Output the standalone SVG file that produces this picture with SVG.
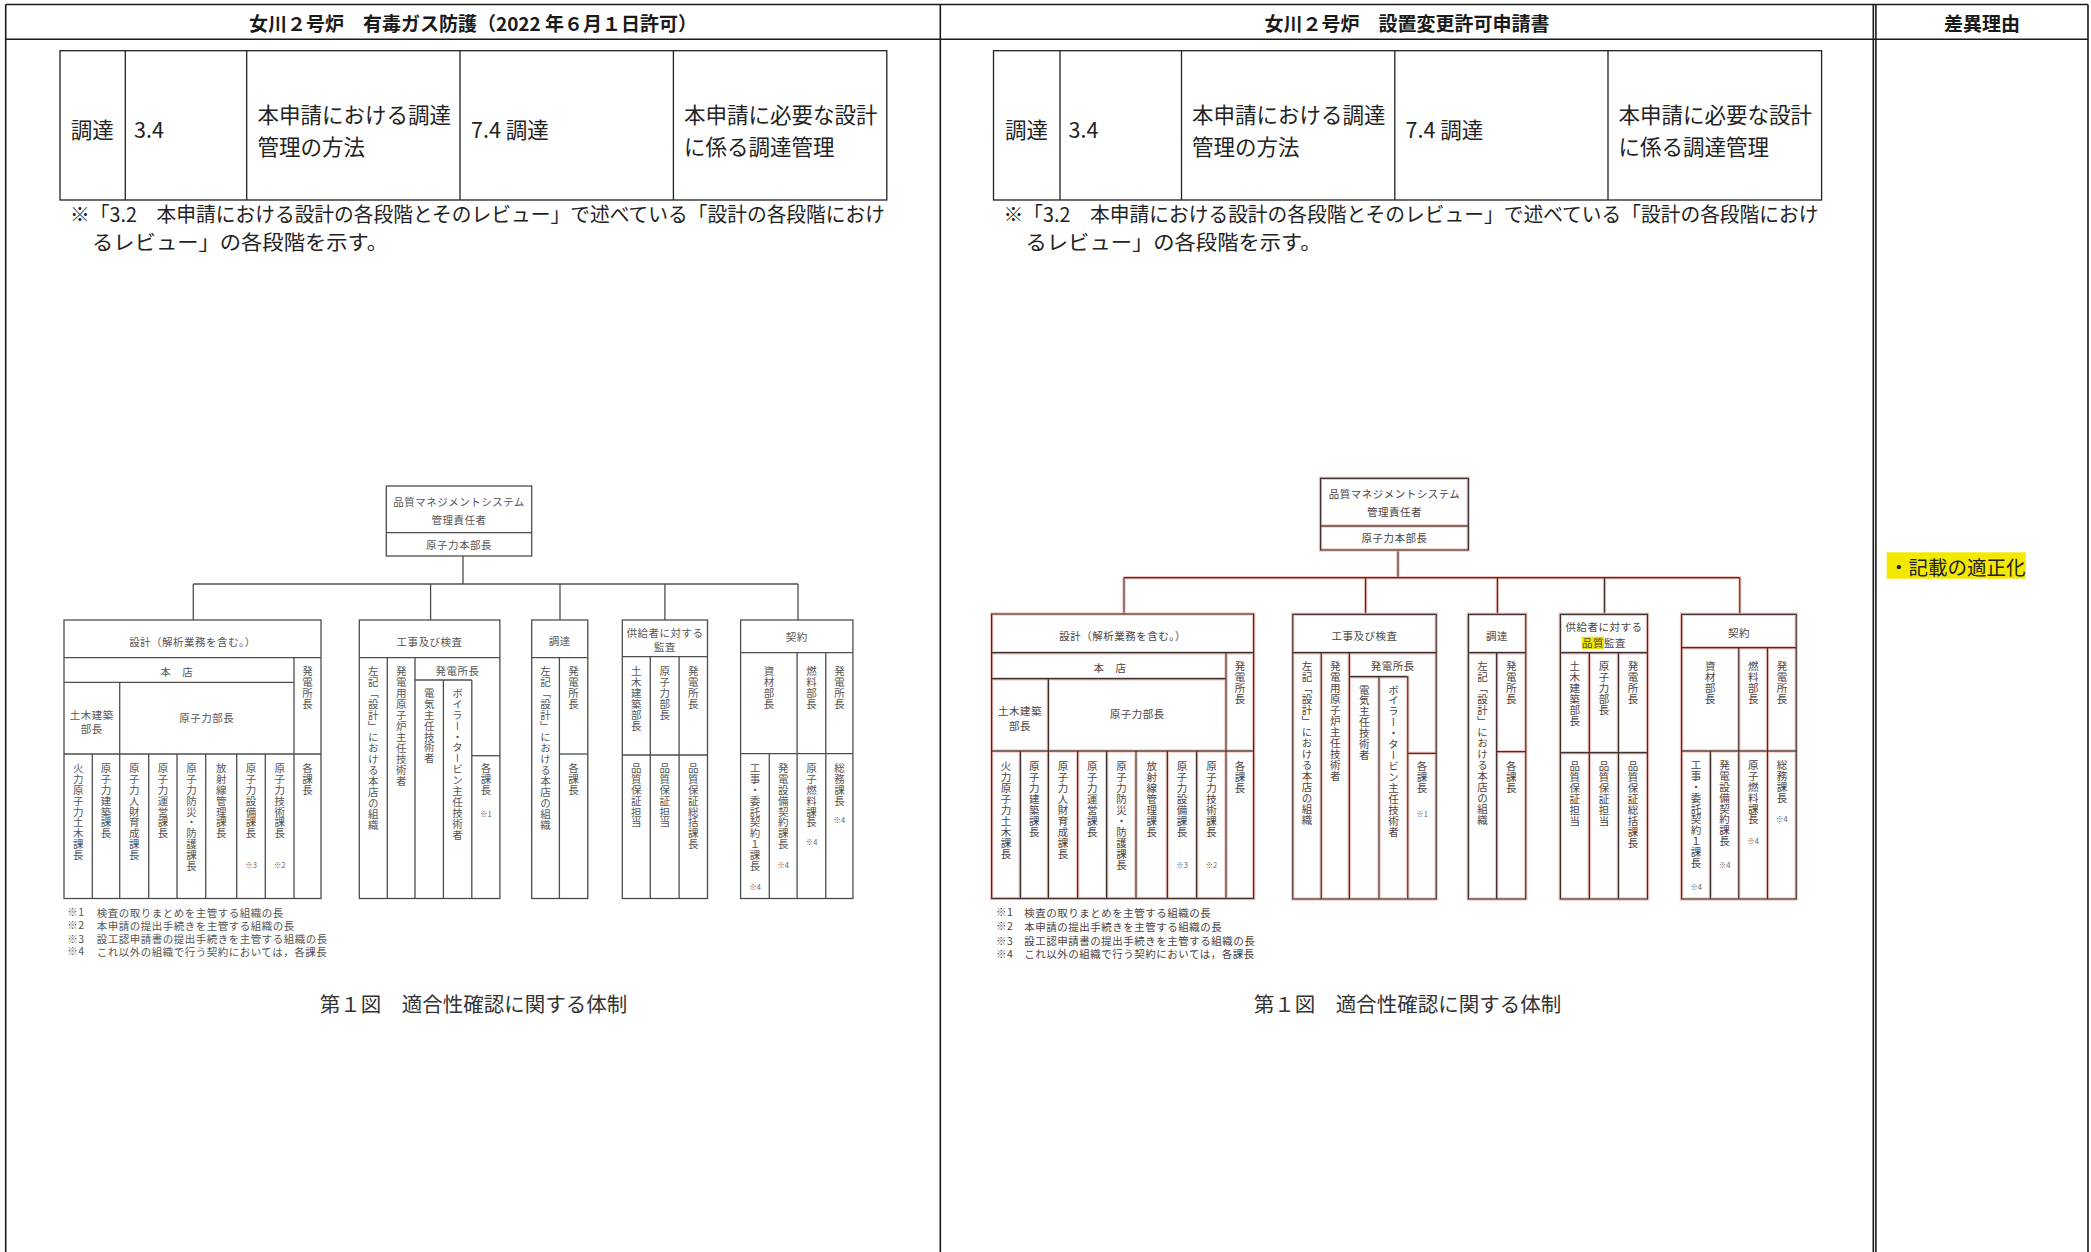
<svg xmlns="http://www.w3.org/2000/svg" width="2091" height="1252" viewBox="0 0 2091 1252">
<style>
.frame{stroke:#1a1a1a;stroke-width:1.6;fill:none}
.hdr{font-family:"Noto Sans CJK JP",sans-serif;font-size:19px;font-weight:700;fill:#1a1a1a;text-anchor:middle;dominant-baseline:central}
.tb{font-family:"Noto Sans CJK JP",sans-serif;font-size:21.5px;fill:#222;dominant-baseline:central}
.nt{font-family:"Noto Sans CJK JP",sans-serif;font-size:20px;fill:#222;dominant-baseline:central}
.tl{stroke:#222;stroke-width:1.3;fill:none}
.L{stroke:#4d4d4d;stroke-width:1.3;fill:none}
.R{stroke:#3b3131;stroke-width:1.4;fill:none}
.t{font-family:"Noto Sans CJK JP",sans-serif;font-size:10.5px;letter-spacing:0.5px;fill:#555;text-anchor:middle;dominant-baseline:central}
.v{font-family:"Noto Sans CJK JP",sans-serif;font-size:10.5px;letter-spacing:0.45px;font-kerning:none;fill:#555;writing-mode:vertical-rl}
.s{font-family:"Noto Sans CJK JP",sans-serif;font-size:7.5px;fill:#666;text-anchor:middle;dominant-baseline:central}
.fn{font-family:"Noto Sans CJK JP",sans-serif;font-size:10.5px;letter-spacing:0.5px;fill:#555;dominant-baseline:central}
.rt .t,.rt .v,.rt .fn{fill:#4c4242}
.cap{font-family:"Noto Sans CJK JP",sans-serif;font-size:20.5px;fill:#333;text-anchor:middle;dominant-baseline:central}
</style>
<defs>
<filter id="fringe" x="-5%" y="-5%" width="110%" height="110%">
<feMorphology in="SourceAlpha" operator="dilate" radius="1.1" result="d"/>
<feFlood flood-color="#f0b4aa" flood-opacity="0.75"/>
<feComposite in2="d" operator="in" result="halo"/>
<feMerge><feMergeNode in="halo"/><feMergeNode in="SourceGraphic"/></feMerge>
</filter>
</defs>
<rect width="2091" height="1252" fill="#fff"/>

<g id="frame" class="frame">
<line x1="5.7" y1="4.5" x2="2088" y2="4.5"/>
<line x1="5.7" y1="39.3" x2="2088" y2="39.3"/>
<line x1="5.7" y1="4.5" x2="5.7" y2="1252"/>
<line x1="940.3" y1="4.5" x2="940.3" y2="1252"/>
<line x1="1873.3" y1="4.5" x2="1873.3" y2="1252"/>
<line x1="1875.9" y1="4.5" x2="1875.9" y2="1252"/>
<line x1="2088" y1="4.5" x2="2088" y2="1252"/>
</g>
<g id="headers">
<text class="hdr" x="473" y="22.5">女川２号炉　有毒ガス防護（2022 年６月１日許可）</text>
<text class="hdr" x="1407" y="22.5">女川２号炉　設置変更許可申請書</text>
<text class="hdr" x="1982" y="22.5">差異理由</text>
</g>

<g id="table-left">
<rect class="tl" x="60" y="50.7" width="826.8" height="149.3"/>
<line class="tl" x1="125.3" y1="50.7" x2="125.3" y2="200"/>
<line class="tl" x1="246.7" y1="50.7" x2="246.7" y2="200"/>
<line class="tl" x1="460" y1="50.7" x2="460" y2="200"/>
<line class="tl" x1="673.4" y1="50.7" x2="673.4" y2="200"/>
<text class="tb" x="70.7" y="128">調達</text>
<text class="tb" x="134" y="128">3.4</text>
<text class="tb" x="257.4" y="113.3">本申請における調達</text>
<text class="tb" x="257.4" y="145.3">管理の方法</text>
<text class="tb" x="471" y="128">7.4 調達</text>
<text class="tb" x="684" y="113.3">本申請に必要な設計</text>
<text class="tb" x="684" y="145.3">に係る調達管理</text>
<text class="nt" x="70" y="213.4" textLength="815" lengthAdjust="spacingAndGlyphs">※「3.2　本申請における設計の各段階とそのレビュー」で述べている「設計の各段階におけ</text>
<text class="nt" x="92" y="241.4" textLength="296" lengthAdjust="spacingAndGlyphs">るレビュー」の各段階を示す。</text>
</g>
<g id="table-right">
<rect class="tl" x="993.5" y="50.7" width="828.1" height="149.3"/>
<line class="tl" x1="1060" y1="50.7" x2="1060" y2="200"/>
<line class="tl" x1="1181.5" y1="50.7" x2="1181.5" y2="200"/>
<line class="tl" x1="1394.8" y1="50.7" x2="1394.8" y2="200"/>
<line class="tl" x1="1608" y1="50.7" x2="1608" y2="200"/>
<text class="tb" x="1005" y="128">調達</text>
<text class="tb" x="1068.5" y="128">3.4</text>
<text class="tb" x="1192" y="113.3">本申請における調達</text>
<text class="tb" x="1192" y="145.3">管理の方法</text>
<text class="tb" x="1405.5" y="128">7.4 調達</text>
<text class="tb" x="1618.5" y="113.3">本申請に必要な設計</text>
<text class="tb" x="1618.5" y="145.3">に係る調達管理</text>
<text class="nt" x="1003.5" y="213.4" textLength="815" lengthAdjust="spacingAndGlyphs">※「3.2　本申請における設計の各段階とそのレビュー」で述べている「設計の各段階におけ</text>
<text class="nt" x="1025.5" y="241.4" textLength="296" lengthAdjust="spacingAndGlyphs">るレビュー」の各段階を示す。</text>
</g>

<!-- LEFT ORG CHART -->
<g id="connectors-left" class="L">
<line x1="463" y1="556" x2="463" y2="584"/>
<line x1="193.3" y1="584" x2="798" y2="584"/>
<line x1="193.3" y1="584" x2="193.3" y2="620"/>
<line x1="430.6" y1="584" x2="430.6" y2="620"/>
<line x1="560" y1="584" x2="560" y2="620"/>
<line x1="664.9" y1="584" x2="664.9" y2="620"/>
<line x1="798" y1="584" x2="798" y2="620"/>
</g>
<g id="L-top">
<rect class="L" x="386.3" y="486" width="145.4" height="70"/>
<line class="L" x1="386.3" y1="532.7" x2="531.7" y2="532.7"/>
<text class="t" x="459" y="501.7">品質マネジメントシステム</text>
<text class="t" x="459" y="519.3">管理責任者</text>
<text class="t" x="459" y="544">原子力本部長</text>
</g>
<g id="L-design">
<g class="L">
<rect x="64" y="620" width="257" height="278.5"/>
<line x1="64" y1="657.7" x2="321" y2="657.7"/>
<line x1="294" y1="657.7" x2="294" y2="898.5"/>
<line x1="64" y1="682.3" x2="294" y2="682.3"/>
<line x1="119.7" y1="682.3" x2="119.7" y2="898.5"/>
<line x1="64" y1="754" x2="321" y2="754"/>
<line x1="92.3" y1="754" x2="92.3" y2="898.5"/>
<line x1="148.7" y1="754" x2="148.7" y2="898.5"/>
<line x1="177" y1="754" x2="177" y2="898.5"/>
<line x1="205.7" y1="754" x2="205.7" y2="898.5"/>
<line x1="236.7" y1="754" x2="236.7" y2="898.5"/>
<line x1="265.3" y1="754" x2="265.3" y2="898.5"/>
</g>
<text class="t" x="192.5" y="641">設計（解析業務を含む。）</text>
<text class="t" x="176.7" y="671.7">本　店</text>
<text class="v" x="307.5" y="666">発電所長</text>
<text class="t" x="91.8" y="714.3">土木建築</text>
<text class="t" x="91.8" y="728.3">部長</text>
<text class="t" x="206.8" y="717">原子力部長</text>
<text class="v" x="78.2" y="762.5">火力原子力土木課長</text>
<text class="v" x="106" y="762.5">原子力建築課長</text>
<text class="v" x="134.2" y="762.5">原子力人財育成課長</text>
<text class="v" x="162.9" y="762.5">原子力運営課長</text>
<text class="v" x="191.4" y="762.5">原子力防災・防護課長</text>
<text class="v" x="221.2" y="762.5">放射線管理課長</text>
<text class="v" x="251" y="762.5">原子力設備課長</text>
<text class="v" x="279.7" y="762.5">原子力技術課長</text>
<text class="v" x="307.5" y="762.5">各課長</text>
<text class="s" x="251" y="864.3">※3</text>
<text class="s" x="279.7" y="864.3">※2</text>
</g>
<g id="L-koji">
<g class="L">
<rect x="359.3" y="620" width="140.6" height="278.5"/>
<line x1="359.3" y1="657.7" x2="499.9" y2="657.7"/>
<line x1="387.3" y1="657.7" x2="387.3" y2="898.5"/>
<line x1="415" y1="657.7" x2="415" y2="898.5"/>
<line x1="415" y1="680" x2="471.8" y2="680"/>
<line x1="443.4" y1="680" x2="443.4" y2="898.5"/>
<line x1="471.8" y1="680" x2="471.8" y2="898.5"/>
<line x1="471.8" y1="755.7" x2="499.9" y2="755.7"/>
</g>
<text class="t" x="429.6" y="641">工事及び検査</text>
<text class="v" x="373.3" y="666">左記「設計」における本店の組織</text>
<text class="v" x="401.2" y="666">発電用原子炉主任技術者</text>
<text class="t" x="457.5" y="670">発電所長</text>
<text class="v" x="429.2" y="687.5">電気主任技術者</text>
<text class="v" x="457.6" y="687.5">ボイラー・タービン主任技術者</text>
<text class="v" x="485.9" y="762.5">各課長</text>
<text class="s" x="485.9" y="813">※1</text>
</g>
<g id="L-chotatsu">
<g class="L">
<rect x="531.7" y="620" width="56.1" height="278.5"/>
<line x1="531.7" y1="657.7" x2="587.8" y2="657.7"/>
<line x1="559.4" y1="657.7" x2="559.4" y2="898.5"/>
<line x1="559.4" y1="754" x2="587.8" y2="754"/>
</g>
<text class="t" x="559.7" y="640">調達</text>
<text class="v" x="545.6" y="666">左記「設計」における本店の組織</text>
<text class="v" x="573.6" y="666">発電所長</text>
<text class="v" x="573.6" y="762.5">各課長</text>
</g>
<g id="L-kansa">
<g class="L">
<rect x="622.3" y="620" width="85.2" height="278.5"/>
<line x1="622.3" y1="656.7" x2="707.5" y2="656.7"/>
<line x1="650.3" y1="656.7" x2="650.3" y2="898.5"/>
<line x1="679.1" y1="656.7" x2="679.1" y2="898.5"/>
<line x1="622.3" y1="755" x2="707.5" y2="755"/>
</g>
<text class="t" x="664.9" y="632.3">供給者に対する</text>
<text class="t" x="664.9" y="646.7">監査</text>
<text class="v" x="636.3" y="666">土木建築部長</text>
<text class="v" x="664.7" y="666">原子力部長</text>
<text class="v" x="693.3" y="666">発電所長</text>
<text class="v" x="636.3" y="762.5">品質保証担当</text>
<text class="v" x="664.7" y="762.5">品質保証担当</text>
<text class="v" x="693.3" y="762.5">品質保証総括課長</text>
</g>
<g id="L-keiyaku">
<g class="L">
<rect x="740.6" y="620" width="112.3" height="278.5"/>
<line x1="740.6" y1="652.7" x2="852.9" y2="652.7"/>
<line x1="797.1" y1="652.7" x2="797.1" y2="898.5"/>
<line x1="825.8" y1="652.7" x2="825.8" y2="898.5"/>
<line x1="740.6" y1="753.7" x2="852.9" y2="753.7"/>
<line x1="769.3" y1="753.7" x2="769.3" y2="898.5"/>
</g>
<text class="t" x="796.7" y="636.7">契約</text>
<text class="v" x="768.9" y="666">資材部長</text>
<text class="v" x="811.5" y="666">燃料部長</text>
<text class="v" x="839.4" y="666">発電所長</text>
<text class="v" x="755" y="762.5">工事・委託契約１課長</text>
<text class="v" x="783.2" y="762.5">発電設備契約課長</text>
<text class="v" x="811.5" y="762.5">原子燃料課長</text>
<text class="v" x="839.4" y="762.5">総務課長</text>
<text class="s" x="755" y="886.7">※4</text>
<text class="s" x="783.2" y="864.3">※4</text>
<text class="s" x="811.5" y="841">※4</text>
<text class="s" x="839.4" y="819">※4</text>
</g>
<g id="L-notes">
<text class="fn" x="67.3" y="911.7">※1<tspan x="96.7">検査の取りまとめを主管する組織の長</tspan></text>
<text class="fn" x="67.3" y="924.7">※2<tspan x="96.7">本申請の提出手続きを主管する組織の長</tspan></text>
<text class="fn" x="67.3" y="938.3">※3<tspan x="96.7">設工認申請書の提出手続きを主管する組織の長</tspan></text>
<text class="fn" x="67.3" y="950.7">※4<tspan x="96.7">これ以外の組織で行う契約においては，各課長</tspan></text>
</g>
<text id="L-caption" class="cap" x="473.4" y="1003">第１図　適合性確認に関する体制</text>

<!-- RIGHT ORG CHART -->
<g class="rt">
<g id="connectors-right" class="R" filter="url(#fringe)">
<line x1="1398" y1="550" x2="1398" y2="577.7"/>
<line x1="1124" y1="577.7" x2="1739.8" y2="577.7"/>
<line x1="1124" y1="577.7" x2="1124" y2="614"/>
<line x1="1365.6" y1="577.7" x2="1365.6" y2="614"/>
<line x1="1497.4" y1="577.7" x2="1497.4" y2="614"/>
<line x1="1604.5" y1="577.7" x2="1604.5" y2="614"/>
<line x1="1739.8" y1="577.7" x2="1739.8" y2="614"/>
</g>
<g id="R-top">
<g class="R" filter="url(#fringe)">
<rect x="1320.6" y="478.3" width="147.7" height="71.7"/>
<line x1="1320.6" y1="526" x2="1468.3" y2="526"/>
</g>
<text class="t" x="1394.5" y="493.3">品質マネジメントシステム</text>
<text class="t" x="1394.5" y="511.7">管理責任者</text>
<text class="t" x="1394.5" y="537.7">原子力本部長</text>
</g>
<g id="R-design">
<g class="R" filter="url(#fringe)">
<rect x="991.7" y="614" width="262" height="284.5"/>
<line x1="991.7" y1="652.7" x2="1253.7" y2="652.7"/>
<line x1="1226" y1="652.7" x2="1226" y2="898.5"/>
<line x1="991.7" y1="678.7" x2="1226" y2="678.7"/>
<line x1="1048.3" y1="678.7" x2="1048.3" y2="898.5"/>
<line x1="991.7" y1="751" x2="1253.7" y2="751"/>
<line x1="1020.3" y1="751" x2="1020.3" y2="898.5"/>
<line x1="1077.7" y1="751" x2="1077.7" y2="898.5"/>
<line x1="1106.7" y1="751" x2="1106.7" y2="898.5"/>
<line x1="1136" y1="751" x2="1136" y2="898.5"/>
<line x1="1167.3" y1="751" x2="1167.3" y2="898.5"/>
<line x1="1196.7" y1="751" x2="1196.7" y2="898.5"/>
</g>
<text class="t" x="1122.7" y="635.7">設計（解析業務を含む。）</text>
<text class="t" x="1110" y="667.3">本　店</text>
<text class="v" x="1239.9" y="661">発電所長</text>
<text class="t" x="1020" y="710">土木建築</text>
<text class="t" x="1020" y="725">部長</text>
<text class="t" x="1137.2" y="713.3">原子力部長</text>
<text class="v" x="1006" y="761">火力原子力土木課長</text>
<text class="v" x="1034.3" y="761">原子力建築課長</text>
<text class="v" x="1063" y="761">原子力人財育成課長</text>
<text class="v" x="1092.2" y="761">原子力運営課長</text>
<text class="v" x="1121.4" y="761">原子力防災・防護課長</text>
<text class="v" x="1151.7" y="761">放射線管理課長</text>
<text class="v" x="1182" y="761">原子力設備課長</text>
<text class="v" x="1211.4" y="761">原子力技術課長</text>
<text class="v" x="1239.9" y="761">各課長</text>
<text class="s" x="1182" y="864.3">※3</text>
<text class="s" x="1211.4" y="864.3">※2</text>
</g>
<g id="R-koji">
<g class="R" filter="url(#fringe)">
<rect x="1292.8" y="614.3" width="143.4" height="284.7"/>
<line x1="1292.8" y1="652.7" x2="1436.2" y2="652.7"/>
<line x1="1321.2" y1="652.7" x2="1321.2" y2="899"/>
<line x1="1349.3" y1="652.7" x2="1349.3" y2="899"/>
<line x1="1349.3" y1="676.7" x2="1407.8" y2="676.7"/>
<line x1="1379" y1="676.7" x2="1379" y2="899"/>
<line x1="1407.8" y1="676.7" x2="1407.8" y2="899"/>
<line x1="1407.8" y1="753.3" x2="1436.2" y2="753.3"/>
</g>
<text class="t" x="1364.5" y="635.7">工事及び検査</text>
<text class="v" x="1307" y="661">左記「設計」における本店の組織</text>
<text class="v" x="1335.3" y="661">発電用原子炉主任技術者</text>
<text class="t" x="1392.8" y="665.7">発電所長</text>
<text class="v" x="1364.2" y="684.3">電気主任技術者</text>
<text class="v" x="1393.4" y="684.3">ボイラー・タービン主任技術者</text>
<text class="v" x="1422" y="761">各課長</text>
<text class="s" x="1422" y="813.3">※1</text>
</g>
<g id="R-chotatsu">
<g class="R" filter="url(#fringe)">
<rect x="1468.3" y="614.3" width="57.5" height="284.7"/>
<line x1="1468.3" y1="652.7" x2="1525.8" y2="652.7"/>
<line x1="1496.7" y1="652.7" x2="1496.7" y2="899"/>
<line x1="1496.7" y1="751.7" x2="1525.8" y2="751.7"/>
</g>
<text class="t" x="1497" y="635">調達</text>
<text class="v" x="1482.5" y="661">左記「設計」における本店の組織</text>
<text class="v" x="1511.3" y="661">発電所長</text>
<text class="v" x="1511.3" y="760.5">各課長</text>
</g>
<g id="R-kansa">
<rect x="1581.6" y="636.7" width="22.4" height="12.6" fill="#eee600"/>
<g class="R" filter="url(#fringe)">
<rect x="1560.3" y="614.3" width="87.2" height="284.7"/>
<line x1="1560.3" y1="652.7" x2="1647.5" y2="652.7"/>
<line x1="1589.3" y1="652.7" x2="1589.3" y2="899"/>
<line x1="1618.4" y1="652.7" x2="1618.4" y2="899"/>
<line x1="1560.3" y1="752.7" x2="1647.5" y2="752.7"/>
</g>
<text class="t" x="1603.9" y="626.7">供給者に対する</text>
<text class="t" x="1603.9" y="642.7">品質監査</text>
<text class="v" x="1574.8" y="661">土木建築部長</text>
<text class="v" x="1603.9" y="661">原子力部長</text>
<text class="v" x="1633" y="661">発電所長</text>
<text class="v" x="1574.8" y="761">品質保証担当</text>
<text class="v" x="1603.9" y="761">品質保証担当</text>
<text class="v" x="1633" y="761">品質保証総括課長</text>
</g>
<g id="R-keiyaku">
<g class="R" filter="url(#fringe)">
<rect x="1681.6" y="614.3" width="114.6" height="284.7"/>
<line x1="1681.6" y1="647.7" x2="1796.2" y2="647.7"/>
<line x1="1738.8" y1="647.7" x2="1738.8" y2="899"/>
<line x1="1767.5" y1="647.7" x2="1767.5" y2="899"/>
<line x1="1681.6" y1="751" x2="1796.2" y2="751"/>
<line x1="1710.4" y1="751" x2="1710.4" y2="899"/>
</g>
<text class="t" x="1738.9" y="632.3">契約</text>
<text class="v" x="1710.2" y="661">資材部長</text>
<text class="v" x="1753.2" y="661">燃料部長</text>
<text class="v" x="1781.9" y="661">発電所長</text>
<text class="v" x="1696" y="759.5">工事・委託契約１課長</text>
<text class="v" x="1724.6" y="759.5">発電設備契約課長</text>
<text class="v" x="1753.2" y="759.5">原子燃料課長</text>
<text class="v" x="1781.9" y="759.5">総務課長</text>
<text class="s" x="1696" y="886.7">※4</text>
<text class="s" x="1724.6" y="864.3">※4</text>
<text class="s" x="1753.2" y="840.7">※4</text>
<text class="s" x="1781.9" y="818.3">※4</text>
</g>
<g id="R-notes">
<text class="fn" x="996" y="911.7">※1<tspan x="1024.3">検査の取りまとめを主管する組織の長</tspan></text>
<text class="fn" x="996" y="925.7">※2<tspan x="1024.3">本申請の提出手続きを主管する組織の長</tspan></text>
<text class="fn" x="996" y="940">※3<tspan x="1024.3">設工認申請書の提出手続きを主管する組織の長</tspan></text>
<text class="fn" x="996" y="953.3">※4<tspan x="1024.3">これ以外の組織で行う契約においては，各課長</tspan></text>
</g>
</g>
<text id="R-caption" class="cap" x="1407.5" y="1003">第１図　適合性確認に関する体制</text>

<g id="reason">
<rect x="1886.7" y="552.3" width="139" height="26.4" fill="#f2e800"/>
<text class="tb" x="1889" y="566" style="font-size:19.5px">・記載の適正化</text>
</g>
</svg>
